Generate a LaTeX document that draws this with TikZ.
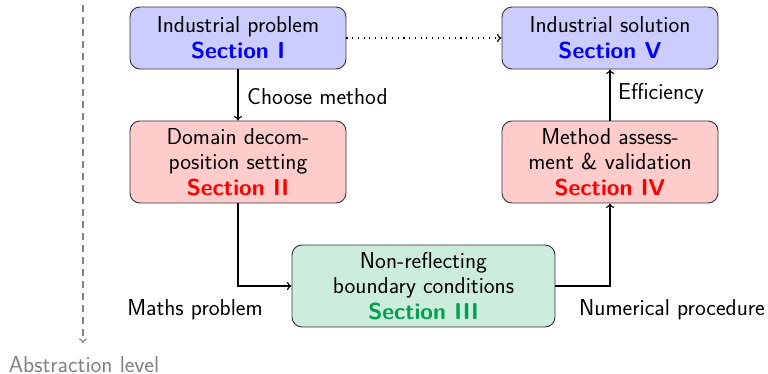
\documentclass[tikz,border=0pt]{standalone}
\usetikzlibrary{arrows.meta}
\renewcommand{\familydefault}{\sfdefault}
\definecolor{mygreen}{RGB}{0,160,80}
\begin{document}
\begin{tikzpicture}[x=1pt,y=-1pt,
  every node/.style={font=\fontsize{23}{25.5}\selectfont\sffamily},
  box/.style={draw=black!80, line width=0.9pt, rounded corners=10pt, align=center, minimum width=216pt, inner sep=0pt},
  bluebox/.style={box, fill=blue!20, minimum height=62pt},
  redbox/.style={box, fill=red!20, minimum height=82pt},
  greenbox/.style={box, fill=mygreen!20, minimum height=82pt, minimum width=263pt},
  flow/.style={line width=1.1pt, -{To[length=4.5pt,width=8pt]}},
  lbl/.style={inner sep=0pt}
]
\useasboundingbox (0,0) rectangle (768,374);
\node[bluebox] (ip) at (238,38) {Industrial problem\\\textcolor{blue}{\bfseries Section I}};
\node[redbox] (dd) at (238,162) {Domain decom-\\position setting\\\textcolor{red}{\bfseries Section II}};
\node[greenbox] (nr) at (423.5,286) {Non-reflecting\\boundary conditions\\\textcolor{mygreen}{\bfseries Section III}};
\node[redbox] (ma) at (610,162) {Method assess-\\ment \& validation\\\textcolor{red}{\bfseries Section IV}};
\node[bluebox] (is) at (610,38) {Industrial solution\\\textcolor{blue}{\bfseries Section V}};

\draw[flow] (ip) -- (dd);
\draw[flow] (dd.south) |- (nr.west);
\draw[flow] (nr.east) -| (ma.south);
\draw[flow] (ma) -- (is);
\draw[line width=1.1pt, dash pattern=on 1.1pt off 4.6pt, -{To[length=4.5pt,width=8pt]}] (ip.east) -- (is.west);

\node[lbl, anchor=west] (cm) at (247,97) {Choose method};
\node[lbl, anchor=west] (ef) at (618,94) {Efficiency};
\node[lbl] (mp) at (195,310) {Maths problem};
\node[lbl] (np) at (672,310) {Numerical procedure};

\coordinate (atop) at (83,5);
\coordinate (abot) at (83,343);
\draw[gray, line width=1.1pt, dash pattern=on 7pt off 5pt, -{To[length=4.5pt,width=8pt]}] (atop) -- (abot);
\node[lbl, text=gray, text depth=0pt, anchor=base] (al) at (84,372) {Abstraction level};
\end{tikzpicture}
\end{document}
